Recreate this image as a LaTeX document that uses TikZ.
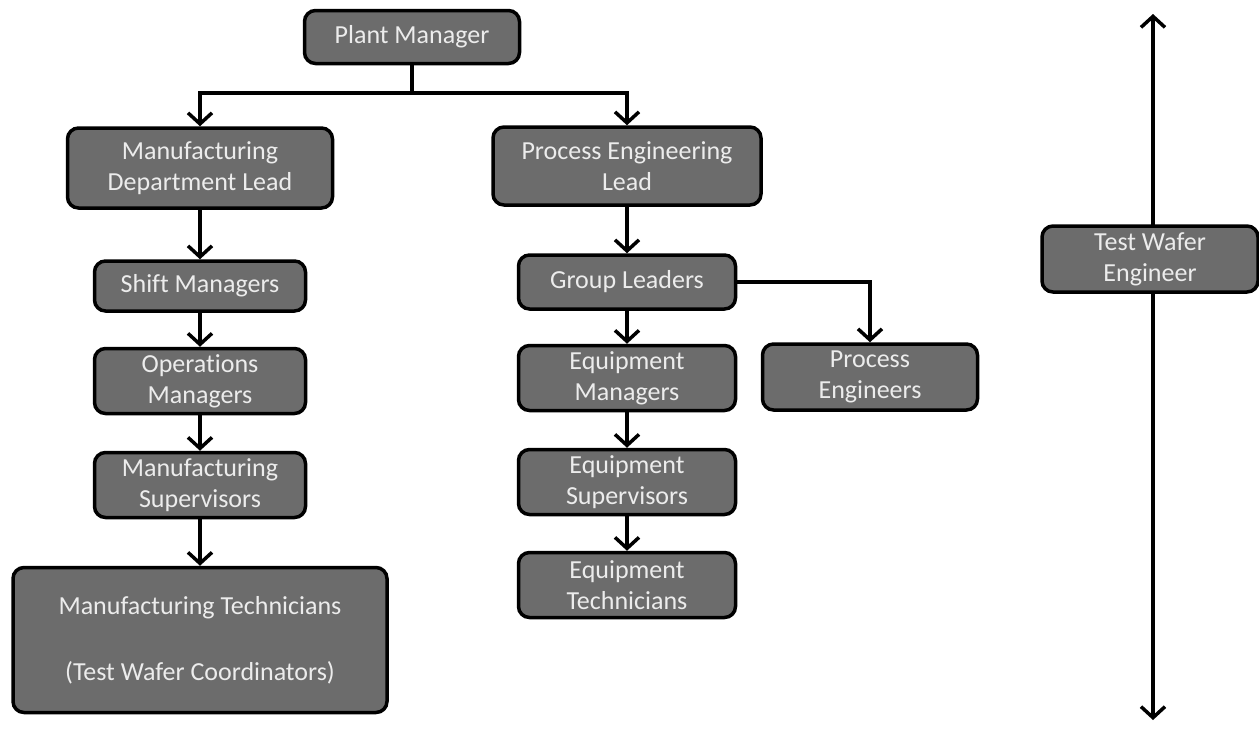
\documentclass[tikz,border=0pt]{standalone}
\usepackage{fontspec}
\setmainfont[Ligatures=NoCommon]{Carlito}
\usetikzlibrary{arrows.meta}
\definecolor{boxgray}{RGB}{108,108,108}
\definecolor{boxtext}{RGB}{236,236,236}
\begin{document}
\begin{tikzpicture}[x=1pt,y=-1pt,
  role/.style={draw=black, line width=3.5pt, fill=boxgray, rounded corners=11pt,
    text=boxtext, align=center, inner sep=0pt,
    font=\fontsize{26}{31}\selectfont},
  link/.style={line width=3.5pt, -{Straight Barb[length=11pt,width=24pt]}},
  plain/.style={line width=3.5pt}]
\useasboundingbox (0,0) rectangle (1259,732);

% top of the hierarchy
\node[role, minimum width=215, minimum height=53] (pm) at (412,37) {Plant Manager};

% manufacturing branch
\node[role, minimum width=265, minimum height=80] (mdl) at (200,168) {Manufacturing\\Department Lead};
\node[role, minimum width=211, minimum height=50] (sm) at (200,286) {Shift Managers};
\node[role, minimum width=211, minimum height=65] (om) at (200,381) {Operations\\Managers};
\node[role, minimum width=211, minimum height=65] (ms) at (200,485) {Manufacturing\\Supervisors};
\node[role, minimum width=374, minimum height=145] (mt) at (200,640) {Manufacturing Technicians\\[35pt](Test Wafer Coordinators)};

% process engineering branch
\node[role, minimum width=268, minimum height=78] (pel) at (627,166) {Process Engineering\\Lead};
\node[role, minimum width=217, minimum height=54] (gl) at (627,282) {Group Leaders};
\node[role, minimum width=217, minimum height=65] (em) at (627,378) {Equipment\\Managers};
\node[role, minimum width=215, minimum height=66] (pe) at (870,377) {Process\\Engineers};
\node[role, minimum width=217, minimum height=65] (es) at (627,482) {Equipment\\Supervisors};
\node[role, minimum width=217, minimum height=65] (et) at (627,585) {Equipment\\Technicians};

% split below the plant manager
\coordinate (j) at (412,93);
\draw[plain] (pm.south) -- (j);
\draw[link] (j) -| (mdl.north);
\draw[link] (j) -| (pel.north);

\draw[link] (mdl) -- (sm);
\draw[link] (sm) -- (om);
\draw[link] (om) -- (ms);
\draw[link] (ms) -- (mt);

\draw[link] (pel) -- (gl);
\draw[link] (gl) -- (em);
\draw[link] (em) -- (es);
\draw[link] (es) -- (et);
\draw[link] (gl.east) -| (pe.north);

% test wafer engineer spanning all levels
\coordinate (twtop) at (1153,14);
\coordinate (twbot) at (1153,720);
\draw[link] (1153,259) -- (twtop);
\draw[link] (1153,259) -- (twbot);
\node[role, minimum width=216, minimum height=66] (tw) at (1150,259) {Test Wafer\\Engineer};
\end{tikzpicture}
\end{document}
